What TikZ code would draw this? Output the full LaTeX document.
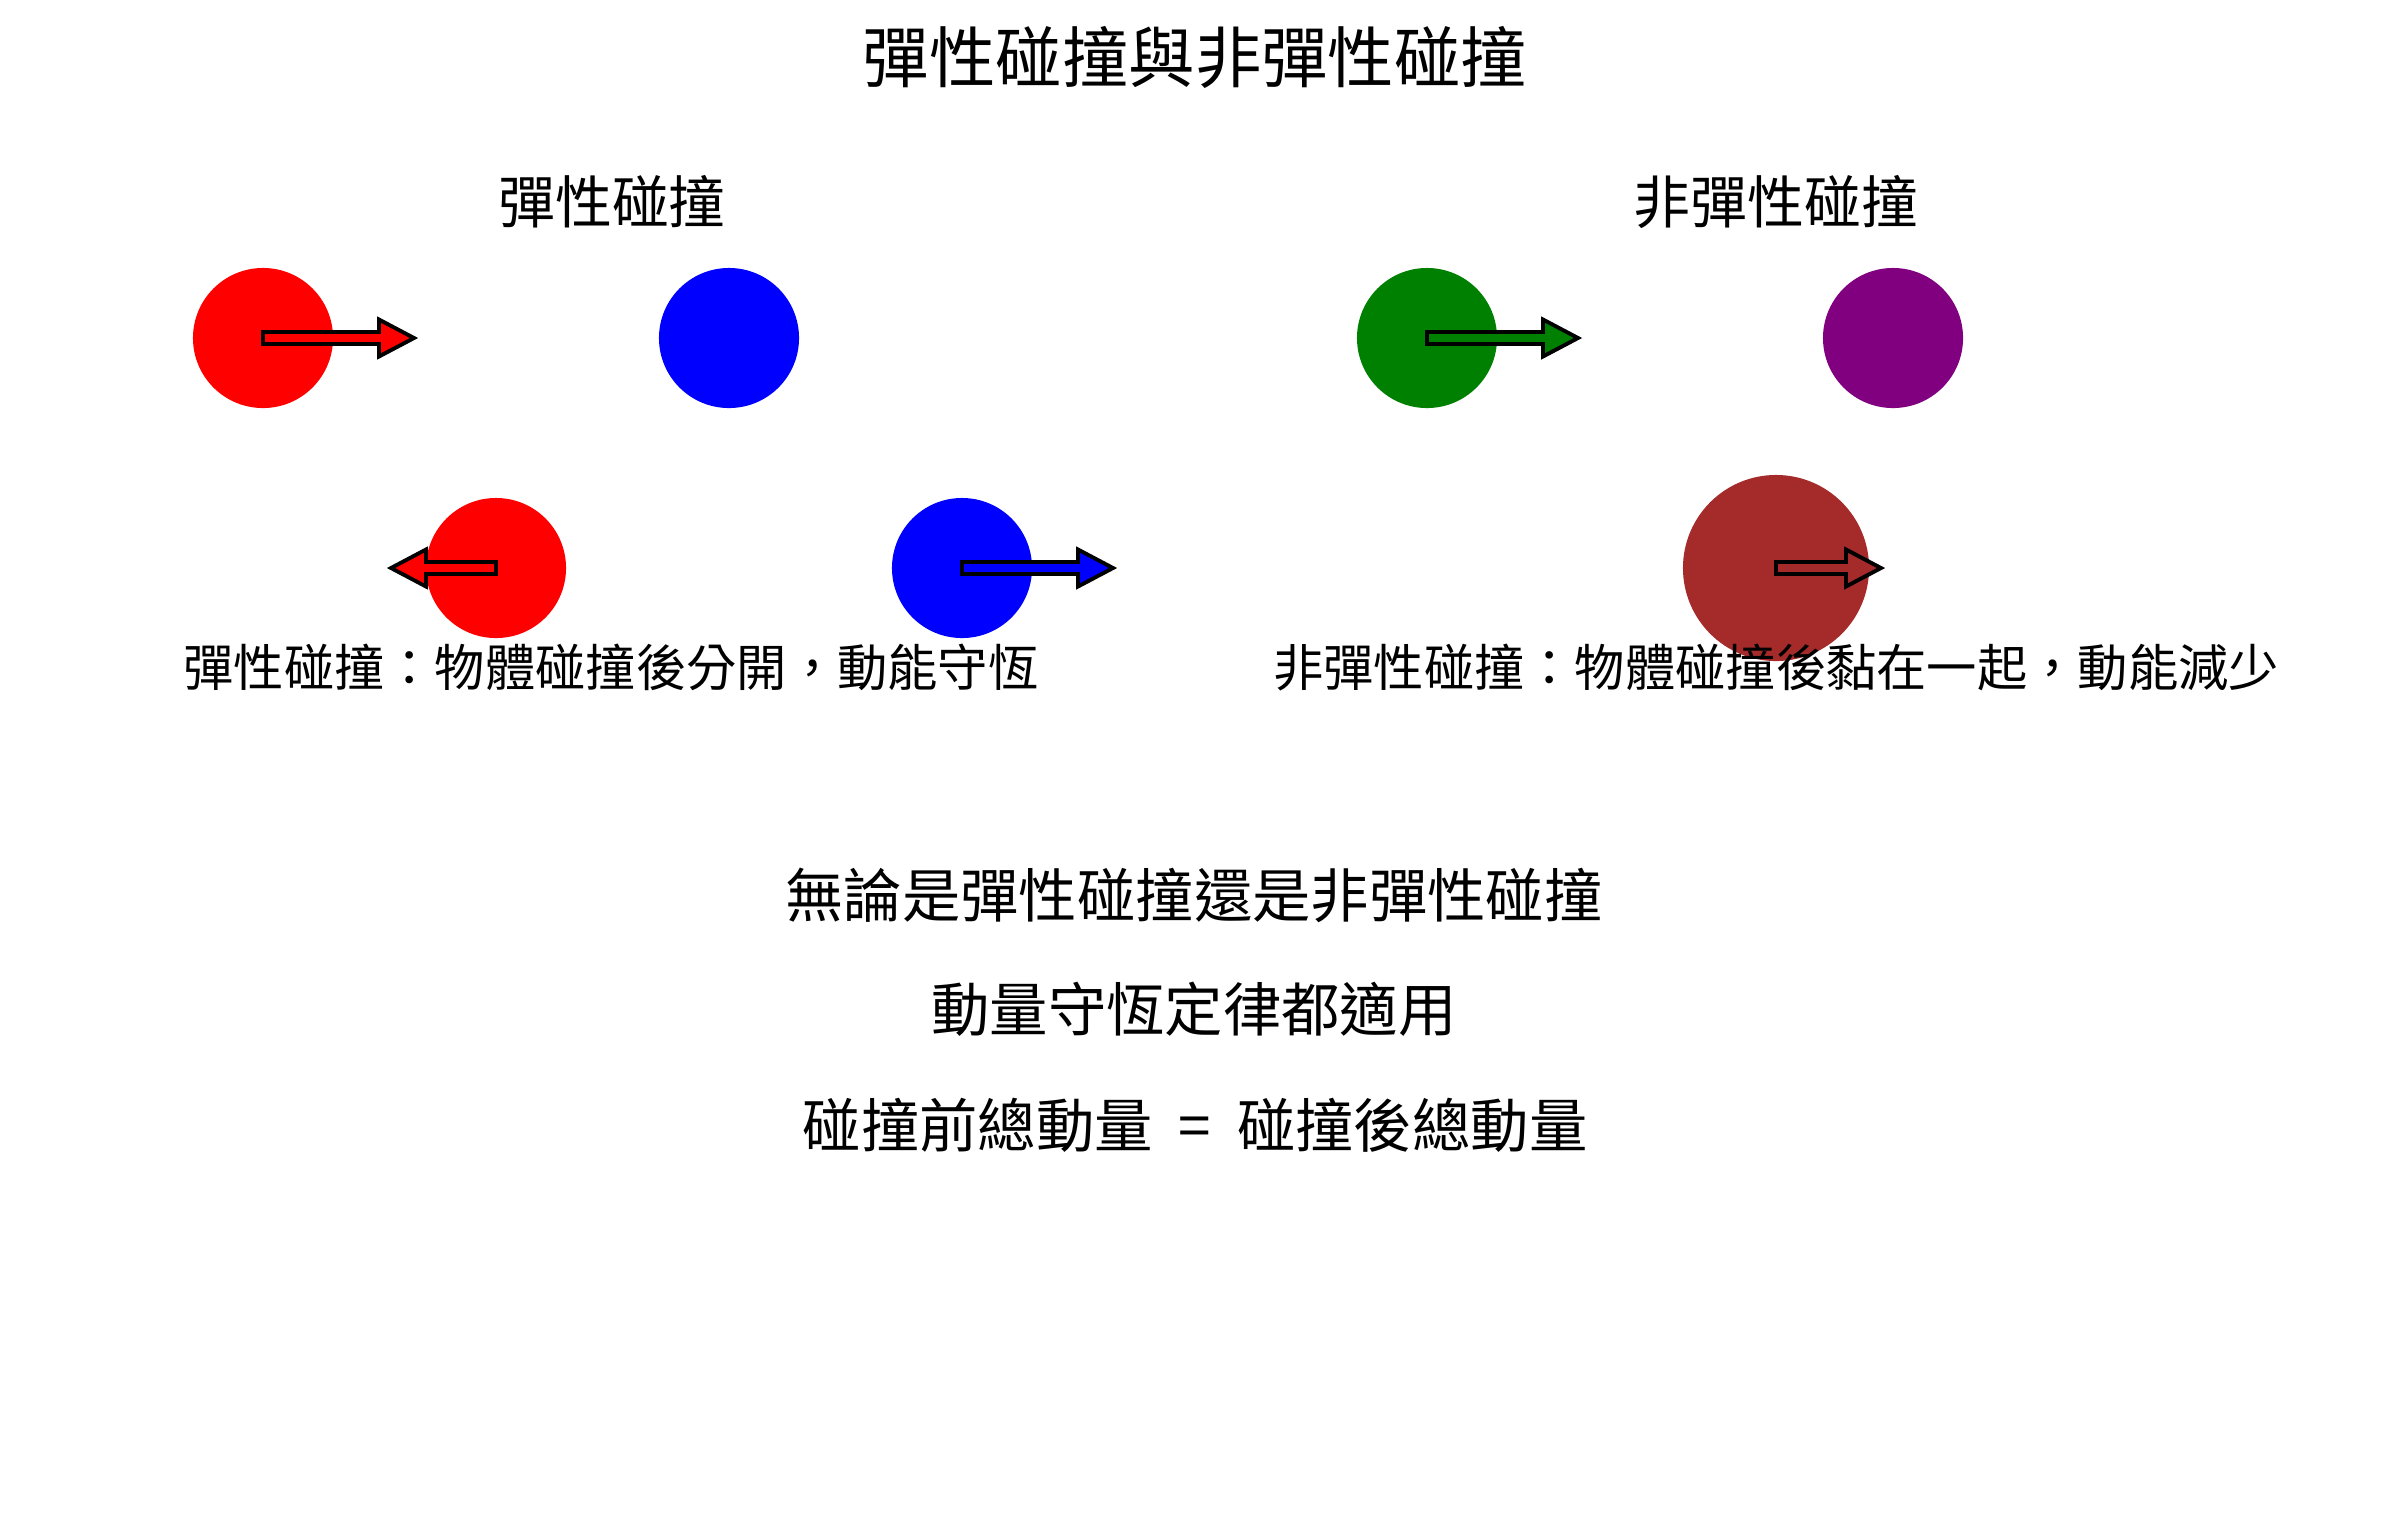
\documentclass[tikz,border=0pt]{standalone}
\usepackage{fontspec}
\usepackage{xcolor}
\setmainfont{Noto Sans CJK TC}
\definecolor{ballgreen}{HTML}{008000}
\definecolor{ballpurple}{HTML}{800080}
\definecolor{ballbrown}{HTML}{A52A2A}

% velocity arrow: node, fill colour, shaft length, direction (1 right, -1 left)
\newcommand{\velarrow}[4]{%
  \filldraw[line width=1.1pt, fill=#2, shift={(#1.center)}, xscale=#4]
    (0,-6) -- (#3,-6) -- (#3,-18.5) -- ({#3+35},0) -- (#3,18.5) -- (#3,6) -- (0,6) -- cycle;}

\begin{document}
\begin{tikzpicture}[x=0.01cm, y=-0.01cm,
    ball/.style={circle, inner sep=0pt, minimum size=1.4cm},
    heading/.style={anchor=base, font=\fontsize{16.2}{19}\selectfont},
    note/.style={anchor=base, font=\fontsize{14.3}{17}\selectfont},
    summary/.style={anchor=base, font=\fontsize{16.6}{20}\selectfont}]
    \useasboundingbox (0,0) rectangle (2385,1523);
    % before the collision
    \node[ball, fill=red] (redA) at (263,338) {};
    \node[ball, fill=blue] (blueA) at (729,338) {};
    \node[ball, fill=ballgreen] (greenA) at (1427,338) {};
    \node[ball, fill=ballpurple] (purpleA) at (1893,338) {};
    % after the collision
    \node[ball, fill=red] (redB) at (496,568) {};
    \node[ball, fill=blue] (blueB) at (962,568) {};
    \node[ball, fill=ballbrown, minimum size=1.86cm] (merged) at (1776,568) {};
    \velarrow{redA}{red}{116}{1}
    \velarrow{greenA}{ballgreen}{116}{1}
    \velarrow{redB}{red}{70}{-1}
    \velarrow{blueB}{blue}{116}{1}
    \velarrow{merged}{ballbrown}{70}{1}
    % texts
    \node[anchor=base, font=\fontsize{18.9}{22}\selectfont] (title) at (1195,82) {彈性碰撞與非彈性碰撞};
    \node[heading] (elasticHead) at (612,223) {彈性碰撞};
    \node[heading] (inelasticHead) at (1776,223) {非彈性碰撞};
    \node[note] (elasticNote) at (611,686) {彈性碰撞：物體碰撞後分開，動能守恆};
    \node[note] (inelasticNote) at (1776,686) {非彈性碰撞：物體碰撞後黏在一起，動能減少};
    \node[summary] (lineA) at (1194,917) {無論是彈性碰撞還是非彈性碰撞};
    \node[summary] (lineB) at (1194,1031) {動量守恆定律都適用};
    \node[summary] (lineC) at (1195,1147) {碰撞前總動量\hspace{0.22em} = \hspace{0.22em}碰撞後總動量};
\end{tikzpicture}
\end{document}
